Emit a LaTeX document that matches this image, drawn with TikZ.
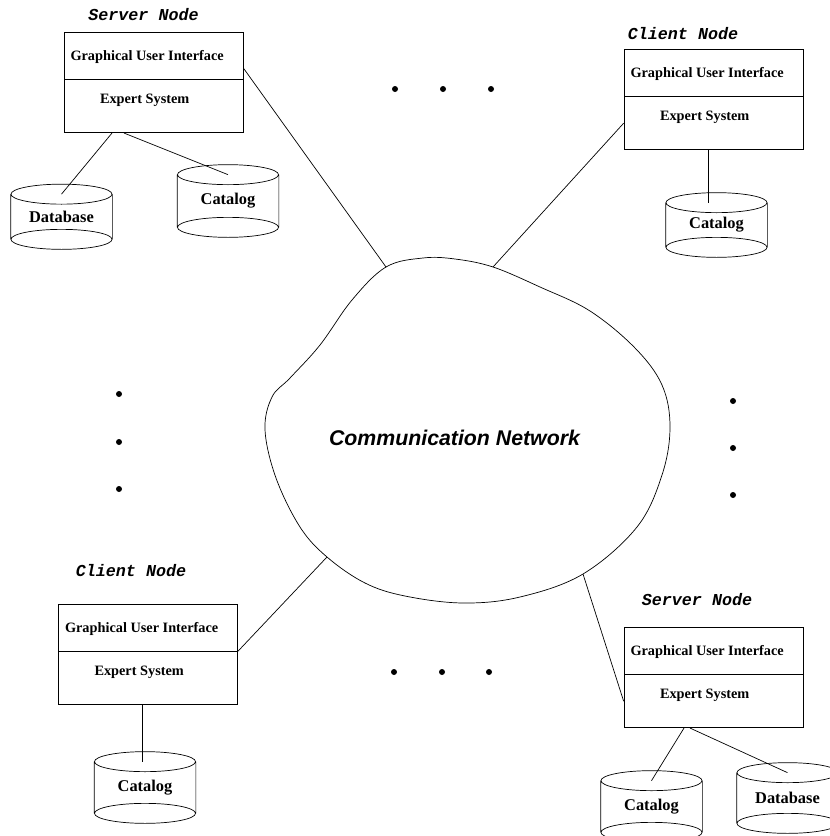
\documentclass[tikz,border=0pt]{standalone}
\usepackage{fontspec}
\setmainfont{Liberation Serif}
\setsansfont{Liberation Sans}
\setmonofont{Liberation Mono}
\usetikzlibrary{calc}
\usetikzlibrary{positioning}

\begin{document}
\begin{tikzpicture}[x=1pt,y=1pt,line width=0.7pt]
\tikzstyle{gui}=[rectangle,draw,minimum width=179pt,minimum height=47pt,inner sep=0pt]
\tikzstyle{expert}=[rectangle,draw,minimum width=179pt,minimum height=53pt,inner sep=0pt]
\tikzstyle{boxtext}=[anchor=west,inner sep=0pt,font=\fontsize{14.3}{16}\selectfont\bfseries]
\tikzstyle{drum}=[rectangle,minimum width=101pt,inner sep=0pt,font=\fontsize{16.4}{18}\selectfont\bfseries]
\tikzstyle{title}=[inner sep=0pt,font=\fontsize{16.7}{18}\selectfont\ttfamily\bfseries\itshape]
\tikzstyle{cloudtext}=[inner sep=0pt,font=\fontsize{21.3}{24}\selectfont\sffamily\bfseries\itshape]

\useasboundingbox (0,0) rectangle (830,-836);

% the network cloud
\coordinate (n1) at (386,-267);
\coordinate (n2) at (493,-267);
\coordinate (n3) at (327,-557);
\coordinate (n4) at (583,-574);
\draw plot[smooth cycle,tension=0.6] coordinates {(n1) (423,-258) (455,-259) (n2)
  (540,-287) (590,-311) (635,-348) (662,-385) (670,-427) (662,-475) (637,-527)
  (n4) (520,-597) (463,-603) (405,-596) (365,-583) (n3) (300,-527) (276,-478)
  (265,-430) (272,-397) (290,-378) (320,-345) (352,-300)};
\node[cloudtext] at(454.5, -438) (net) {Communication Network};

% server node, top left
\node[title] at(143.5, -15) (t1) {Server Node};
\node[gui] at(153.5, -55.5) (g1) {};
\node[expert,below=0pt of g1] (e1) {};
\node[boxtext] at([xshift=6.5pt,yshift=-1.5pt]g1.west) (g1t) {Graphical User Interface};
\node[boxtext] at([xshift=36pt,yshift=-20.5pt]e1.north west) (e1t) {Expert System};
\node[drum,minimum height=44.5pt] at(61.5, -216.75) (db1) {Database};
\node[drum,minimum height=52pt] at(228, -201) (cat1) {Catalog};

% client node, top right
\node[title] at(683, -34) (t2) {Client Node};
\node[gui] at(713.5, -72.5) (g2) {};
\node[expert,below=0pt of g2] (e2) {};
\node[boxtext] at([xshift=6.5pt,yshift=-1.5pt]g2.west) (g2t) {Graphical User Interface};
\node[boxtext] at([xshift=36pt,yshift=-20.5pt]e2.north west) (e2t) {Expert System};
\node[drum,minimum height=44pt] at(716.5, -225) (cat2) {Catalog};

% client node, bottom left
\node[title] at(131, -571) (t3) {Client Node};
\node[gui] at(148, -627.5) (g3) {};
\node[expert,below=0pt of g3] (e3) {};
\node[boxtext] at([xshift=6.5pt,yshift=-1.5pt]g3.west) (g3t) {Graphical User Interface};
\node[boxtext] at([xshift=36pt,yshift=-20.5pt]e3.north west) (e3t) {Expert System};
\node[drum,minimum height=51pt] at(145, -787.5) (cat3) {Catalog};

% server node, bottom right
\node[title] at(697, -600) (t4) {Server Node};
\node[gui] at(713.5, -650.5) (g4) {};
\node[expert,below=0pt of g4] (e4) {};
\node[boxtext] at([xshift=6.5pt,yshift=-1.5pt]g4.west) (g4t) {Graphical User Interface};
\node[boxtext] at([xshift=36pt,yshift=-20.5pt]e4.north west) (e4t) {Expert System};
\node[drum,minimum height=51pt] at(651.5, -806.5) (cat4) {Catalog};
\node[drum,minimum height=50pt] at(787.5, -798) (db2) {Database};

% drum outlines
\foreach \d in {db1,cat1,cat2,cat3,cat4,db2}
  \draw (\d.north west) -- (\d.south west) (\d.north east) -- (\d.south east)
        (\d.north) ellipse[x radius=50.5pt,y radius=10pt]
        (\d.south) ellipse[x radius=50.5pt,y radius=10pt];

% links
\draw ([xshift=-41.5pt]e1.south) -- (db1.north);
\draw ([xshift=-29.5pt]e1.south) -- (cat1.north);
\draw ([yshift=-12.5pt]g1.east) -- (n1);
\draw (n2) -- (e2.west);
\draw ([xshift=-5.5pt]e2.south) -- ([xshift=-5.5pt]e2.south |- cat2.north);
\draw (g3.south east) -- (n3);
\draw ([xshift=-6pt]e3.south) -- ([xshift=-6pt]e3.south |- cat3.north);
\draw (n4) -- (e4.west);
\draw ([xshift=-29.5pt]e4.south) -- (cat4.north);
\draw ([xshift=-23.5pt]e4.south) -- (db2.north);

% dots
\foreach \x in {395,443,491} \fill (\x,-89) circle (3pt);
\foreach \x in {394,442,489} \fill (\x,-672) circle (3pt);
\foreach \y in {394,442,489} \fill (119,-\y) circle (3pt);
\foreach \y in {401,448,495} \fill (733,-\y) circle (3pt);
\end{tikzpicture}
\end{document}
